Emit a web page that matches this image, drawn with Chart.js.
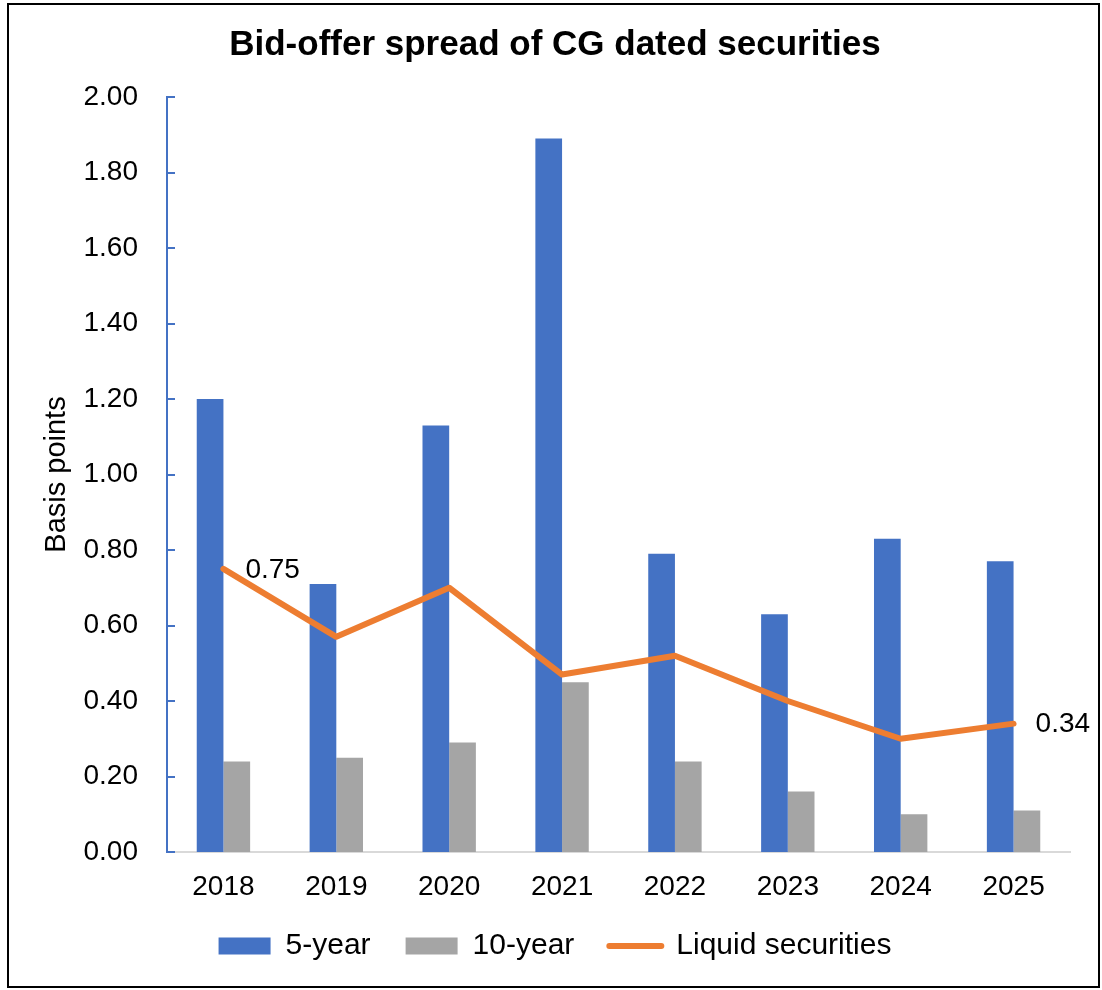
<!DOCTYPE html>
<html>
<head>
<meta charset="utf-8">
<title>Bid-offer spread of CG dated securities</title>
<script src="https://cdn.jsdelivr.net/npm/chart.js@4/dist/chart.umd.min.js"></script>
<style>
  body { margin: 0; background: #fff; }
  #chartBox { width: 1102px; height: 990px; }
</style>
</head>
<body>
<div id="chartBox"><canvas id="spreadChart" width="1102" height="990"></canvas></div>
<script>
//chart data
const years = ["2018", "2019", "2020", "2021", "2022", "2023", "2024", "2025"];
const fiveYear = [1.20, 0.71, 1.13, 1.89, 0.79, 0.63, 0.83, 0.77];
const tenYear = [0.24, 0.25, 0.29, 0.45, 0.24, 0.16, 0.10, 0.11];
const liquid = [0.75, 0.57, 0.70, 0.47, 0.52, 0.40, 0.30, 0.34];
//only the first and the last point of the line get a label
const labelledPoints = [0, 7];

const BLUE = "#4472C4";
const GREY = "#A5A5A5";
const ORANGE = "#ED7D31";
const FONT = "'Liberation Sans', Arial, sans-serif";

//white background and black frame around the whole chart
const framePlugin = {
  id: "frame",
  beforeDraw(chart) {
    let ctx = chart.ctx;
    ctx.save();
    ctx.fillStyle = "#fff";
    ctx.fillRect(0, 0, chart.width, chart.height);
    ctx.strokeStyle = "#000";
    ctx.lineWidth = 2;
    ctx.strokeRect(8, 4, 1091, 983);
    ctx.restore();
  }
};

//short tick marks on the inside of the y axis
const innerTicksPlugin = {
  id: "innerTicks",
  afterDraw(chart) {
    let ctx = chart.ctx;
    let scale = chart.scales.y;
    let left = chart.chartArea.left;
    ctx.save();
    ctx.strokeStyle = BLUE;
    ctx.lineWidth = 2;
    for (let tick of scale.ticks) {
      let y = Math.round(scale.getPixelForValue(tick.value));
      ctx.beginPath();
      ctx.moveTo(left, y);
      ctx.lineTo(left + 8, y);
      ctx.stroke();
    }
    ctx.restore();
  }
};

//value labels next to the line points
const pointLabelsPlugin = {
  id: "pointLabels",
  afterDatasetsDraw(chart) {
    let ctx = chart.ctx;
    let meta = chart.getDatasetMeta(2);
    ctx.save();
    ctx.font = "28px " + FONT;
    ctx.fillStyle = "#000";
    ctx.textAlign = "left";
    ctx.textBaseline = "middle";
    for (let i of labelledPoints) {
      let pt = meta.data[i];
      ctx.fillText(liquid[i].toFixed(2), pt.x + 22, pt.y + 1);
    }
    ctx.restore();
  }
};

function loadChart() {
  let ctx = document.getElementById("spreadChart").getContext("2d");
  new Chart(ctx, {
    type: "bar",
    data: {
      labels: years,
      datasets: [
        {
          label: "5-year",
          data: fiveYear,
          backgroundColor: BLUE,
          order: 1
        },
        {
          label: "10-year",
          data: tenYear,
          backgroundColor: GREY,
          order: 1
        },
        {
          type: "line",
          label: "Liquid securities",
          data: liquid,
          borderColor: ORANGE,
          backgroundColor: ORANGE,
          borderWidth: 6,
          borderJoinStyle: "round",
          borderCapStyle: "round",
          pointRadius: 0,
          tension: 0,
          order: 0
        }
      ]
    },
    options: {
      responsive: false,
      animation: false,
      categoryPercentage: 0.473,
      barPercentage: 1.0,
      layout: {
        padding: { top: 10, left: 40, right: 32, bottom: 19 }
      },
      plugins: {
        title: {
          display: true,
          text: "Bid-offer spread of CG dated securities",
          color: "#000",
          font: { family: FONT, size: 35, weight: "bold" },
          padding: { top: 14, bottom: 31 }
        },
        legend: {
          position: "bottom",
          labels: {
            usePointStyle: true,
            pointStyleWidth: 52,
            boxWidth: 52,
            boxHeight: 17,
            padding: 35,
            color: "#000",
            font: { family: FONT, size: 30 },
            generateLabels(chart) {
              return chart.data.datasets.map((ds, i) => ({
                text: ds.label,
                datasetIndex: i,
                fillStyle: ds.type === "line" ? "transparent" : ds.backgroundColor,
                strokeStyle: ds.type === "line" ? ds.borderColor : ds.backgroundColor,
                lineWidth: ds.type === "line" ? 6 : 0,
                lineCap: "round",
                pointStyle: ds.type === "line" ? "line" : "rect",
                fontColor: "#000",
                hidden: false
              }));
            }
          }
        },
        tooltip: { enabled: false }
      },
      scales: {
        x: {
          grid: { display: false, drawTicks: false },
          border: { color: "#D9D9D9", width: 2 },
          ticks: {
            color: "#000",
            padding: 18,
            font: { family: FONT, size: 28 }
          },
          afterFit(scale) {
            scale.height = 44;
          }
        },
        y: {
          min: 0,
          max: 2,
          grid: { display: false, drawTicks: false },
          border: { color: BLUE, width: 2 },
          ticks: {
            stepSize: 0.2,
            color: "#000",
            padding: 29,
            font: { family: FONT, size: 28 },
            callback: value => Number(value).toFixed(2)
          },
          title: {
            display: true,
            text: "Basis points",
            color: "#000",
            font: { family: FONT, size: 29 },
            padding: { top: 0, bottom: 0 }
          },
          afterFit(scale) {
            scale.width = 127;
          }
        }
      }
    },
    plugins: [framePlugin, innerTicksPlugin, pointLabelsPlugin]
  });
}

window.onload = function() {
  loadChart();
};
</script>
</body>
</html>
